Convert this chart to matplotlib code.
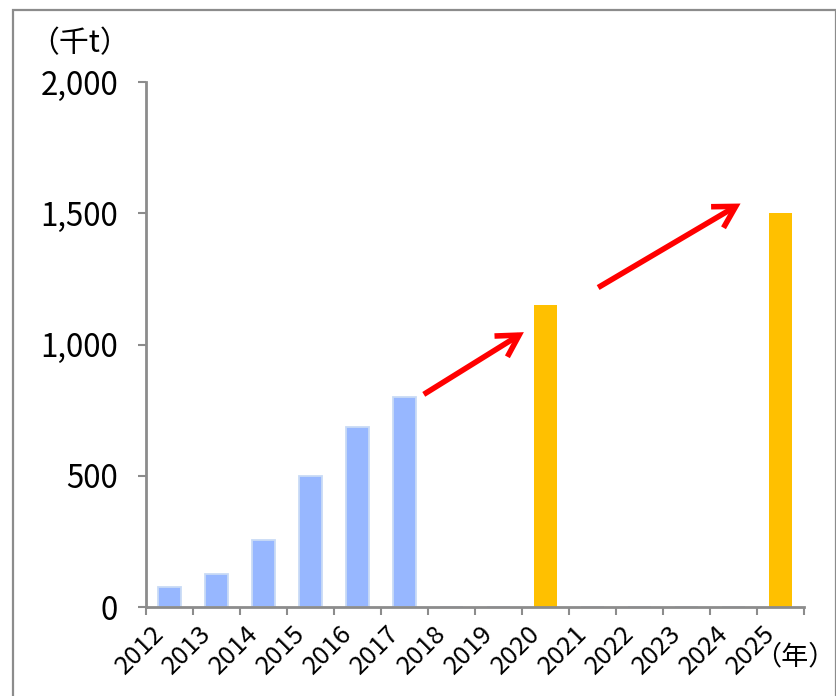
import matplotlib
matplotlib.use("Agg")
import matplotlib.pyplot as plt
import matplotlib.transforms as mtransforms
from matplotlib.patches import Rectangle, FancyArrowPatch
from matplotlib.ticker import FuncFormatter, FixedLocator

plt.rcParams['font.family'] = ['Noto Sans CJK JP', 'DejaVu Sans']

years = [str(y) for y in range(2012, 2026)]
actual = [75, 125, 255, 500, 685, 800, 0, 0, 0, 0, 0, 0, 0, 0]
forecast = [0, 0, 0, 0, 0, 0, 0, 0, 1150, 0, 0, 0, 0, 1500]
# arrow tails/heads as (category index, value)
arrows = [((5.41, 810), (7.54, 1047)),
          ((9.12, 1217), (12.15, 1537))]

grey = "#8c8c8c"

fig = plt.figure(figsize=(8.37, 6.96), dpi=100)
ax = fig.add_axes([146 / 837, 1 - 607 / 696, (804 - 146) / 837, (607 - 82) / 696])

x = list(range(len(years)))
ax.bar(x, actual, width=0.5, color="#97B7FF", edgecolor="#C9DBF6", linewidth=1.3)
ax.bar(x, forecast, width=0.5, color="#FFC000", linewidth=0)

for (x0, y0), (x1, y1) in arrows:
    ax.add_patch(FancyArrowPatch((x0, y0), (x1, y1), color="#FF0000", lw=4,
                                 arrowstyle="->,head_length=0.7,head_width=0.4",
                                 mutation_scale=22, shrinkA=0, shrinkB=0,
                                 capstyle="butt", joinstyle="miter"))

ax.set_xlim(-0.5, len(years) - 0.5)
ax.set_ylim(0, 2000)
ax.set_yticks([0, 500, 1000, 1500, 2000])
ax.yaxis.set_major_formatter(FuncFormatter(lambda v, p: f"{int(v):,}"))

# Excel style: ticks on category boundaries, labels in the middle
ax.xaxis.set_major_locator(FixedLocator([i - 0.5 for i in range(len(years) + 1)]))
ax.xaxis.set_minor_locator(FixedLocator(x))
ax.set_xticklabels([], minor=False)
ax.set_xticklabels(years, minor=True, rotation=45, ha="right", va="top",
                   fontsize=18.5)
shift = mtransforms.ScaledTranslation(5 / 100, 0, fig.dpi_scale_trans)
for lab in ax.get_xticklabels(minor=True):
    lab.set_transform(lab.get_transform() + shift)
ax.tick_params(axis="x", which="minor", length=0, pad=10)
ax.tick_params(axis="x", which="major", length=6, width=1.5, color=grey)
ax.tick_params(axis="y", length=6, width=1.5, color=grey, pad=14, labelsize=22.5)

for s in ("top", "right"):
    ax.spines[s].set_visible(False)
for s in ("left", "bottom"):
    ax.spines[s].set_color(grey)
    ax.spines[s].set_linewidth(2)

fig.text(80 / 837, 1 - 44 / 696, "（千t）", fontsize=21.5, ha="center", va="center")
fig.text(836 / 837, 1 - 657 / 696, "（年）", fontsize=19.5, ha="right", va="center")

fig.add_artist(Rectangle((13 / 837, -0.1), (836 - 13) / 837, 1.1 - 10 / 696,
                         transform=fig.transFigure, fill=False,
                         edgecolor=grey, linewidth=1.6, clip_on=False))

fig.savefig("out.png", dpi=100)
